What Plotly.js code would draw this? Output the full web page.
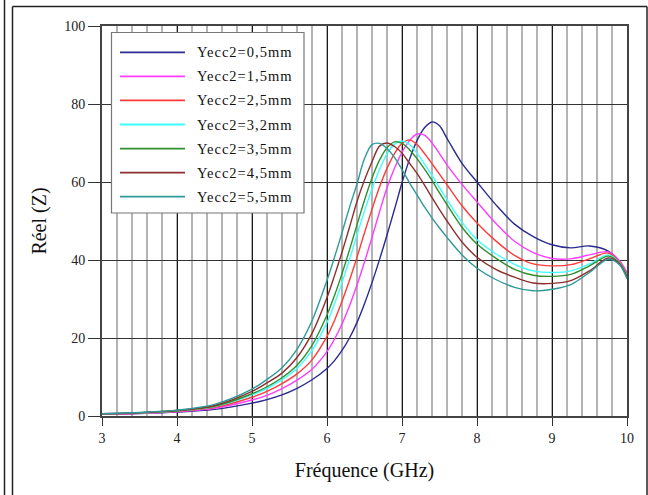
<!DOCTYPE html>
<html>
<head>
<meta charset="utf-8">
<script src="https://cdn.plot.ly/plotly-3.0.1.min.js"></script>
<style>
  html, body { margin: 0; padding: 0; background: #fff; }
  #chart { width: 648px; height: 495px; }
  .annotation-text { letter-spacing: 1px; }
</style>
</head>
<body>
<div id="chart"></div>
<script>
// Frequency (GHz)
const freq = [3, 3.5, 4, 4.5, 5, 5.2, 5.4, 5.6, 5.8, 6, 6.1, 6.2, 6.3, 6.4, 6.5, 6.6, 6.7, 6.8, 6.9, 7, 7.1, 7.2, 7.3, 7.4, 7.5, 7.6, 7.8, 8, 8.25, 8.5, 8.75, 9, 9.25, 9.5, 9.75, 9.9, 10];

// Réel (Z) for each Yecc2 value
const y05 = [0.45, 0.65, 1.0, 1.7, 3.3, 4.2, 5.4, 7.1, 9.3, 12.2, 14.2, 16.8, 20.0, 24.0, 28.8, 34.2, 40.1, 46.4, 53.0, 59.8, 65.8, 70.6, 73.9, 75.4, 74.4, 71.2, 64.8, 60, 54.2, 49.2, 46, 43.9, 43.1, 43.6, 42.3, 39.5, 36.0];
const y15 = [0.5, 0.7, 1.1, 2.0, 4.1, 5.3, 7.0, 9.2, 12.0, 16.5, 19.7, 23.6, 28.3, 33.6, 39.5, 45.8, 52.3, 58.5, 63.5, 67.6, 70.6, 72.3, 72.0, 70.0, 67.3, 64.4, 59.4, 54.9, 49.4, 44.8, 41.9, 40.4, 40.3, 41.3, 42.1, 39.8, 36.8];
const y25 = [0.5, 0.75, 1.2, 2.2, 4.8, 6.3, 8.3, 10.8, 14.4, 20.4, 24.5, 29.4, 34.8, 40.7, 47.0, 53.0, 58.7, 63.5, 67.3, 69.9, 70.8, 69.6, 67.3, 64.7, 62.0, 59.3, 53.9, 49.5, 44.9, 41.2, 39.0, 38.5, 38.8, 40.3, 41.8, 39.5, 36.3];
const y32 = [0.55, 0.8, 1.3, 2.4, 5.4, 7.1, 9.3, 12.2, 16.8, 24.0, 28.8, 34.2, 40.1, 46.4, 52.6, 58.2, 63.2, 67.2, 69.7, 70.5, 69.6, 67.4, 64.6, 61.7, 58.6, 55.5, 49.7, 45.2, 41.6, 38.9, 37.2, 36.8, 37.2, 39.0, 41.3, 39.3, 35.9];
const y35 = [0.55, 0.8, 1.35, 2.5, 5.7, 7.5, 9.8, 13.0, 18.1, 25.9, 30.9, 36.5, 42.6, 49.0, 55.3, 61.0, 65.6, 68.8, 70.3, 69.9, 68.3, 66.0, 63.3, 60.4, 57.2, 54.2, 48.4, 44.1, 40.5, 37.6, 36.1, 35.8, 36.3, 38.5, 41.0, 39.2, 35.7];
const y45 = [0.6, 0.85, 1.4, 2.7, 6.3, 8.5, 11.0, 15.0, 21.2, 30.4, 36.0, 42.0, 48.4, 55.0, 60.5, 65.2, 69.2, 70.0, 69.1, 67.4, 64.8, 62.2, 59.2, 56.0, 52.9, 50.0, 44.6, 40.7, 37.6, 35.6, 34.1, 34.0, 34.7, 37.2, 40.5, 39.0, 35.5];
const y55 = [0.6, 0.9, 1.5, 3.0, 6.9, 9.4, 12.4, 17.1, 24.4, 34.8, 40.7, 47.0, 53.5, 59.5, 66.0, 69.6, 69.9, 68.6, 66.3, 63.2, 59.8, 56.7, 53.6, 50.8, 48.2, 45.8, 41.3, 37.9, 35.0, 33.0, 32.1, 32.5, 33.7, 36.8, 40.2, 38.8, 35.2];

const seriesNames = ["Yecc2=0,5mm", "Yecc2=1,5mm", "Yecc2=2,5mm", "Yecc2=3,2mm", "Yecc2=3,5mm", "Yecc2=4,5mm", "Yecc2=5,5mm"];
const seriesValues = [y05, y15, y25, y32, y35, y45, y55];
const seriesColors = ["#2a2a90", "#ff3cff", "#ff3b3b", "#3cffff", "#2f8f2f", "#8e2f2f", "#2f9a9a"];

const xTickVals = [3, 4, 5, 6, 7, 8, 9, 10];
const yTickVals = [0, 20, 40, 60, 80, 100];

// ---- layout geometry helpers (pixels -> paper) ----
const W = 648, H = 495;
const mL = 102, mR = 21, mT = 26, mB = 79;
const pw = W - mL - mR, ph = H - mT - mB;
const px = v => (v - mL) / pw;
const py = v => (H - mB - v) / ph;

const FONT = "Liberation Serif, Times New Roman, serif";

const traces = seriesValues.map((vals, i) => ({
  x: freq,
  y: vals,
  type: "scatter",
  mode: "lines",
  name: seriesNames[i],
  line: { color: seriesColors[i], width: 1.4, shape: "spline", smoothing: 0.9 },
  showlegend: false,
  hoverinfo: "skip"
}));

const shapes = [];
const annotations = [];

// custom legend box
shapes.push({ type: "rect", xref: "paper", yref: "paper",
  x0: px(111.5), x1: px(304), y0: py(32.5), y1: py(213),
  fillcolor: "#ffffff", line: { color: "#777", width: 1.2 }, layer: "above" });
seriesNames.forEach((n, i) => {
  const yy = 52.3 + i * 24.07;
  shapes.push({ type: "line", xref: "paper", yref: "paper",
    x0: px(120), x1: px(185), y0: py(yy), y1: py(yy),
    line: { color: seriesColors[i], width: 1.8 }, layer: "above" });
  annotations.push({ xref: "paper", yref: "paper", x: px(195), y: py(yy),
    xanchor: "left", yanchor: "middle", showarrow: false, text: n,
    font: { family: FONT, size: 14.5, color: "#111" } });
});

// outer frame lines
const frame = { color: "#222", width: 1.5 };
shapes.push({ type: "line", xref: "paper", yref: "paper", x0: px(4.5), x1: px(4.5), y0: py(0), y1: py(495), line: frame });
shapes.push({ type: "line", xref: "paper", yref: "paper", x0: px(12.5), x1: px(12.5), y0: py(6.5), y1: py(495), line: frame });
shapes.push({ type: "line", xref: "paper", yref: "paper", x0: px(12.5), x1: px(647), y0: py(6.5), y1: py(6.5), line: frame });
shapes.push({ type: "line", xref: "paper", yref: "paper", x0: px(647), x1: px(647), y0: py(6.5), y1: py(495), line: frame });

const layout = {
  width: W, height: H,
  margin: { l: mL, r: mR, t: mT, b: mB },
  paper_bgcolor: "#fff", plot_bgcolor: "#fff",
  font: { family: FONT, size: 14, color: "#222" },
  showlegend: false,
  xaxis: {
    range: [3, 10], tickvals: xTickVals, ticktext: xTickVals.map(String),
    ticks: "outside", ticklen: 8, tickcolor: "#333", tickwidth: 1,
    showgrid: true, gridcolor: "#1a1a1a", gridwidth: 1,
    minor: { dtick: 0.2, tick0: 3, showgrid: true, gridcolor: "#b4b4b4", gridwidth: 1.5, ticks: "" },
    showline: true, linecolor: "#444", linewidth: 2, mirror: true, zeroline: false,
    tickfont: { family: FONT, size: 14, color: "#222" },
    title: { text: "Fréquence (GHz)", font: { family: FONT, size: 20, color: "#111" }, standoff: 18 }
  },
  yaxis: {
    range: [0, 100], tickvals: yTickVals, ticktext: yTickVals.map(String),
    ticks: "outside", ticklen: 12, tickcolor: "#333", tickwidth: 1,
    showgrid: true, gridcolor: "#333", gridwidth: 1,
    showline: true, linecolor: "#444", linewidth: 2, mirror: true, zeroline: false,
    tickfont: { family: FONT, size: 14, color: "#222" },
    title: { text: "Réel (Z)", font: { family: FONT, size: 20, color: "#111" }, standoff: 12 }
  },
  shapes: shapes,
  annotations: annotations
};

Plotly.newPlot("chart", traces, layout, { staticPlot: true, displayModeBar: false });
</script>
</body>
</html>
